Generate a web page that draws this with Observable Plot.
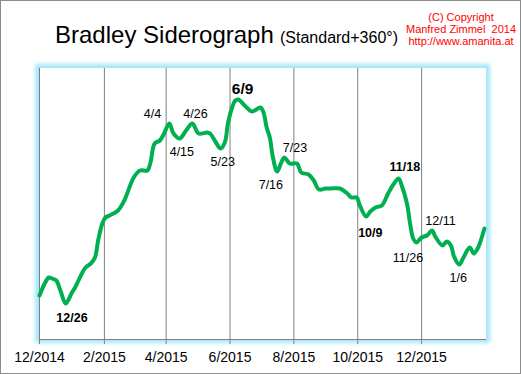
<!DOCTYPE html>
<html>
<head>
<meta charset="utf-8">
<script src="https://cdn.jsdelivr.net/npm/d3@7"></script>
<script src="https://cdn.jsdelivr.net/npm/@observablehq/plot@0.6"></script>
<style>
  body { margin: 0; background: #fff; font-family: "Liberation Sans", Arial, sans-serif; }
  #wrap { position: relative; width: 521px; height: 374px; overflow: hidden; background: #fff; }
  #panel { position: absolute; left: 39px; top: 68px; width: 447px; height: 271px; background: #fff;
           box-shadow: 0 0 4px 4px #a6e7f8; }
  #chart { position: absolute; left: 0; top: 0; }
  #border { position: absolute; left: 0; top: 0; width: 521px; height: 374px; box-sizing: border-box;
            border: 1px solid #8c8c8c; pointer-events: none; }
  .t1 { position: absolute; left: 55px; top: 23px; font-size: 24px; line-height: 24px; white-space: nowrap; color: #000; }
  .t2 { position: absolute; left: 280px; top: 30px; font-size: 16px; line-height: 16px; white-space: nowrap; color: #000; }
  .copy { position: absolute; left: 401px; top: 10.5px; width: 120px; text-align: center; font-size: 11px;
          line-height: 12.1px; color: #f00; white-space: pre; }
</style>
</head>
<body>
<div id="wrap">
  <div id="panel"></div>
  <div id="chart"></div>
  <div class="t1">Bradley Siderograph</div>
  <div class="t2">(Standard+360°)</div>
  <div class="copy">(C) Copyright
Manfred Zimmel  2014
http://www.amanita.at</div>
  <div id="border"></div>
</div>
<script>
// Siderograph line (arbitrary units)
const lineDates = [
  "2014-12-01","2014-12-06","2014-12-10","2014-12-13","2014-12-17","2014-12-21","2014-12-26",
  "2015-01-01","2015-01-04","2015-01-11","2015-01-14","2015-01-19","2015-01-23","2015-01-26","2015-01-30",
  "2015-02-02","2015-02-06","2015-02-14","2015-02-20",
  "2015-03-01","2015-03-07","2015-03-14","2015-03-17","2015-03-21","2015-03-26","2015-03-30",
  "2015-04-04","2015-04-08","2015-04-14","2015-04-20","2015-04-26",
  "2015-05-02","2015-05-10","2015-05-13","2015-05-18","2015-05-23","2015-05-27","2015-05-30",
  "2015-06-03","2015-06-06","2015-06-09","2015-06-15","2015-06-22","2015-06-30",
  "2015-07-03","2015-07-06","2015-07-09","2015-07-12","2015-07-16","2015-07-20","2015-07-23","2015-07-28",
  "2015-08-04","2015-08-08","2015-08-15","2015-08-20","2015-08-25","2015-08-31",
  "2015-09-05","2015-09-14","2015-09-21","2015-09-25","2015-09-30",
  "2015-10-03","2015-10-09","2015-10-13","2015-10-18","2015-10-24","2015-10-30",
  "2015-11-04","2015-11-09","2015-11-12","2015-11-17","2015-11-20","2015-11-23","2015-11-26",
  "2015-12-01","2015-12-06","2015-12-11","2015-12-14","2015-12-21","2015-12-25","2015-12-29",
  "2016-01-01","2016-01-06","2016-01-10","2016-01-16","2016-01-20","2016-01-24","2016-01-30"
];
const lineValues = [
  44,56,62,61,59,49,36,
  47,52,67,72,76,82,99,116,
  122,124,129,139,
  162,169,169,177,196,199,206,
  216,206,201,209,216,
  206,207,206,198,191,197,216,
  232,239,240,234,228,232,
  227,212,202,182,168,177,182,176,
  176,167,165,159,150,151,
  151,151,146,142,142,
  134,123,128,132,134,146,
  155,161,154,136,116,101,97,
  102,104,109,103,94,98,94,
  83,75,82,92,86,92,111
];

// Turning-point annotations
const labelTexts  = ["12/26","4/4","4/15","4/26","5/23","6/9","7/16","7/23","10/9","11/18","11/26","12/11","1/6"];
const labelDates  = ["2015-01-01","2015-03-19","2015-04-16","2015-04-29","2015-05-25","2015-06-13","2015-07-10","2015-08-02","2015-10-13","2015-11-15","2015-11-18","2015-12-19","2016-01-05"];
const labelValues = [22,226,188,226,178,250,155,192,107,173,82,119,62];
const labelKinds  = ["bold","normal","normal","normal","normal","major","normal","normal","bold","bold","normal","normal","normal"];

// X axis ticks
const tickDates  = ["2014-12-01","2015-02-01","2015-04-01","2015-06-01","2015-08-01","2015-10-01","2015-12-01"];
const tickLabels = ["12/2014","2/2015","4/2015","6/2015","8/2015","10/2015","12/2015"];

const parse = d3.utcParse("%Y-%m-%d");
const points = lineDates.map((d, i) => ({date: parse(d), value: lineValues[i]}));
const labels = labelTexts.map((t, i) => ({text: t, date: parse(labelDates[i]), value: labelValues[i], kind: labelKinds[i]}));
const ticks = tickDates.map(parse);
const tickMap = new Map(ticks.map((d, i) => [+d, tickLabels[i]]));

const chart = Plot.plot({
  width: 521,
  height: 374,
  marginLeft: 39,
  marginRight: 35,
  marginTop: 68,
  marginBottom: 35,
  style: {background: "transparent", fontFamily: "Liberation Sans, Arial, sans-serif", overflow: "visible"},
  x: {type: "utc", domain: [parse("2014-12-01"), parse("2016-02-01")]},
  y: {domain: [0, 271], axis: null},
  marks: [
    Plot.ruleX(ticks, {x: d => d, stroke: "#808080", strokeWidth: 1}),
    Plot.ruleY([0], {stroke: "#808080", strokeWidth: 1}),
    Plot.axisX(ticks, {
      tickFormat: d => tickMap.get(+d),
      tickSize: 5, tickPadding: 8, fontSize: 14,
      stroke: "#808080", fill: "#000", label: null
    }),
    Plot.line(points, {x: "date", y: "value", stroke: "#00b050", strokeWidth: 4, curve: "catmull-rom", strokeLinejoin: "round", strokeLinecap: "round"}),
    Plot.text(labels.filter(d => d.kind === "normal"), {x: "date", y: "value", text: "text", fontSize: 12.5, fill: "#000"}),
    Plot.text(labels.filter(d => d.kind === "bold"), {x: "date", y: "value", text: "text", fontSize: 12.5, fontWeight: "bold", fill: "#000"}),
    Plot.text(labels.filter(d => d.kind === "major"), {x: "date", y: "value", text: "text", fontSize: 15.5, fontWeight: "bold", fill: "#000"})
  ]
});
document.getElementById("chart").appendChild(chart);
</script>
</body>
</html>
